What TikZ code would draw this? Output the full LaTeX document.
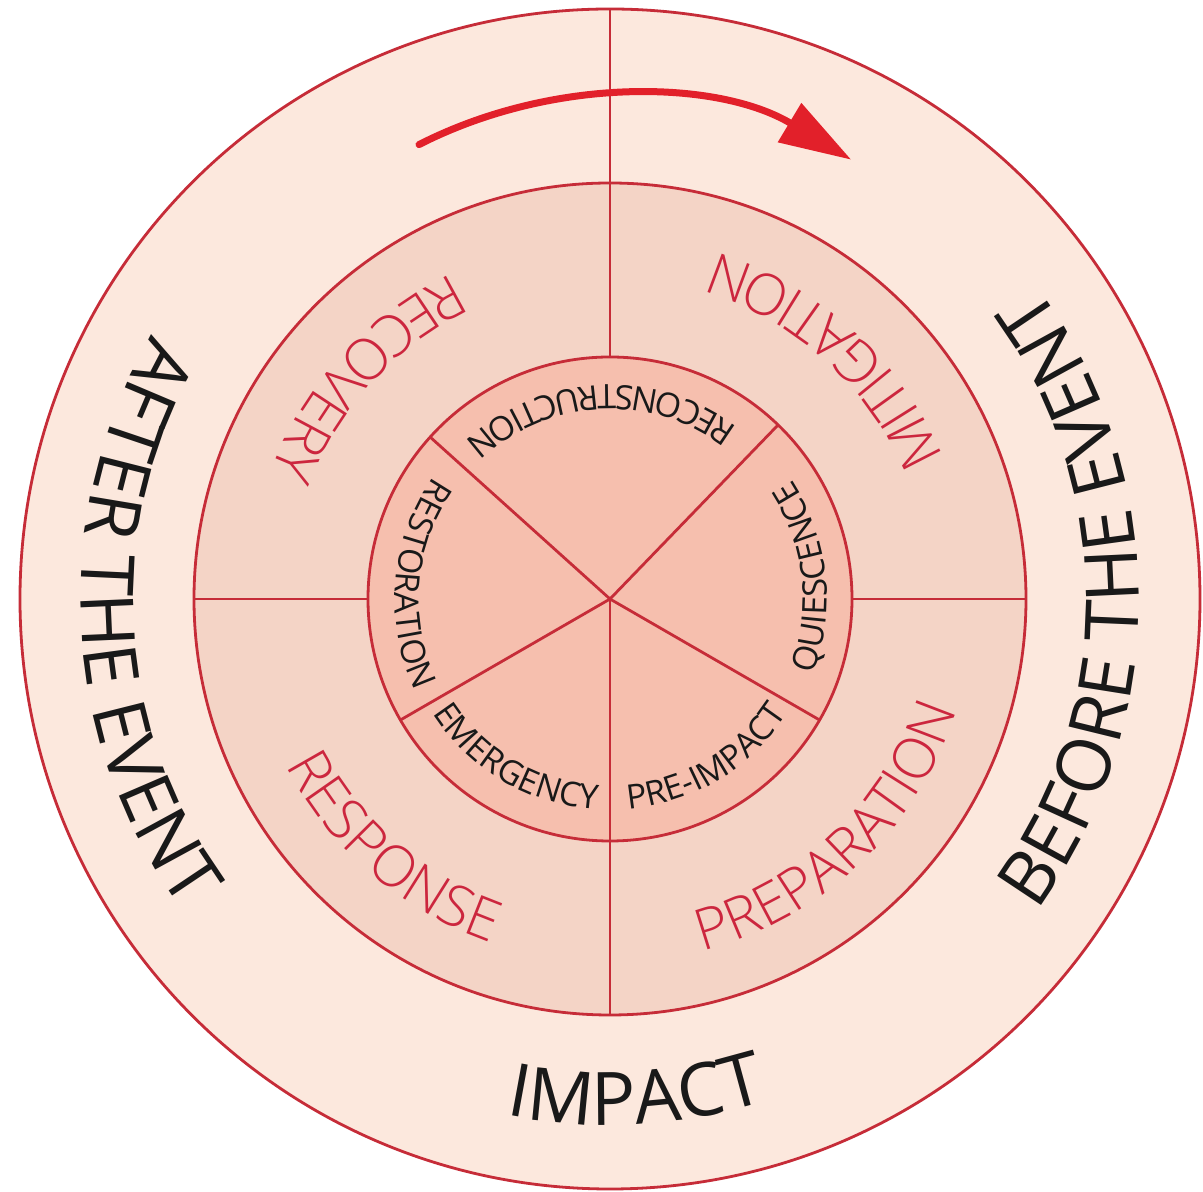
\documentclass[tikz,border=0pt]{standalone}
\usepackage{fontspec}
\setmainfont{Open Sans}
\newfontfamily\lightsans{Open Sans Light}
\usetikzlibrary{decorations.text,arrows.meta}
\definecolor{outerfill}{RGB}{252,232,221}
\definecolor{midfill}{RGB}{244,212,198}
\definecolor{innerfill}{RGB}{246,191,174}
\definecolor{linered}{RGB}{198,44,56}
\definecolor{textred}{RGB}{204,38,62}
\definecolor{arrowred}{RGB}{226,32,42}
\definecolor{textblack}{RGB}{25,25,25}
\newcommand\outerfont{\fontsize{21}{21}\selectfont\color{textblack}}
\newcommand\midfont{\lightsans\fontsize{16.3}{16.3}\selectfont\color{textred}}
\newcommand\innerfont{\fontsize{9.6}{9.6}\selectfont\color{textblack}}
% #1 radius, #2 centre angle, #3 half span, #4 format, #5 text
\newcommand\arctext[5]{%
  \path[decorate, decoration={text along path, text align=center,
        text={|#4|#5}}]
    ({#2-#3}:#1) arc[start angle={#2-#3}, end angle={#2+#3}, radius=#1];
}
\begin{document}
\begin{tikzpicture}[x=0.1mm,y=0.1mm,
  ringline/.style={draw=linered, line width=0.28mm},
  spoke/.style={draw=linered, line width=0.28mm}]
\useasboundingbox (-610,-593) rectangle (593,599);
\fill[white] (-610,-593) rectangle (593,599);
\coordinate (C) at (0,0);
% rings
\draw[ringline, fill=outerfill] (C) circle[radius=590];
\draw[ringline, fill=midfill] (C) circle[radius=416];
\draw[ringline, fill=innerfill] (C) circle[radius=242];
% named points on the circles
\coordinate (otop) at (90:590);
\coordinate (itop) at (90:242);
\coordinate (mbot) at (270:416);
\coordinate (mleft) at (180:416);
\coordinate (ileft) at (180:242);
\coordinate (iright) at (0:242);
\coordinate (mright) at (0:416);
\coordinate (s1) at (46:242);
\coordinate (s2) at (138:242);
\coordinate (s3) at (210:242);
\coordinate (s4) at (330:242);
% spokes
\draw[spoke] (otop) -- (itop);
\draw[spoke] (C) -- (mbot);
\draw[spoke] (mleft) -- (ileft);
\draw[spoke] (iright) -- (mright);
\draw[spoke] (C) -- (s1);
\draw[spoke] (C) -- (s2);
\draw[spoke] (C) -- (s3);
\draw[spoke] (C) -- (s4);
% arrow
\coordinate (AC) at (11.5,57);
\draw[arrowred, line width=0.7mm, line cap=round,
      -{Triangle[length=7.2mm,width=4.4mm]}]
  ([shift={(117:446)}]AC) arc[start angle=117, end angle=59, radius=446];
% outer texts
\arctext{529}{183}{80}{\outerfont}{AFTER THE EVENT}
\arctext{529}{0}{80}{\outerfont}{BEFORE THE EVENT}
\arctext{526}{-87}{80}{\outerfont}{IMPACT}
% middle texts
\arctext{362}{48}{60}{\midfont}{MITIGATION}
\arctext{362}{137.6}{60}{\midfont}{RECOVERY}
\arctext{364}{229}{60}{\midfont}{RESPONSE}
\arctext{364}{-46.5}{60}{\midfont}{PREPARATION}
% inner texts
\arctext{214}{93}{70}{\innerfont}{RECONSTRUCTION}
\arctext{217}{6.5}{70}{\innerfont}{QUIESCENCE}
\arctext{211}{-59}{70}{\innerfont}{PRE-IMPACT}
\arctext{211}{239.6}{70}{\innerfont}{EMERGENCY}
\arctext{215}{175.3}{70}{\innerfont}{RESTORATION}
\end{tikzpicture}
\end{document}
